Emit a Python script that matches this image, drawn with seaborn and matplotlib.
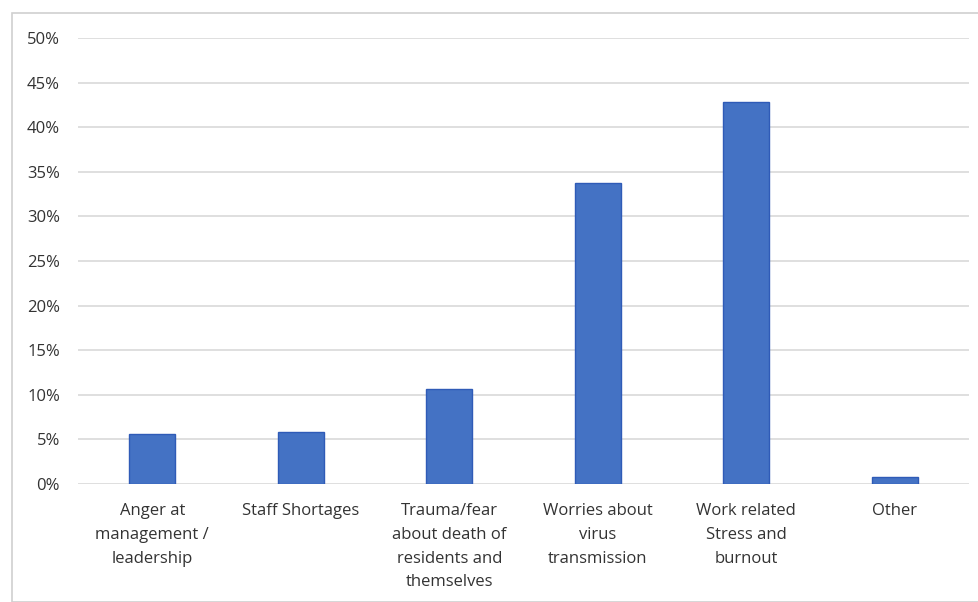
import matplotlib
matplotlib.use("Agg")
import matplotlib.pyplot as plt
import seaborn as sns
import pandas as pd
from matplotlib.patches import Rectangle
from matplotlib.ticker import PercentFormatter

categories = [
    "Anger at\nmanagement /\nleadership",
    "Staff Shortages",
    "Trauma/fear\nabout death of\nresidents and\nthemselves",
    "Worries about\nvirus\ntransmission",
    "Work related\nStress and\nburnout",
    "Other",
]
shares = [5.6, 5.8, 10.7, 33.7, 42.8, 0.8]
y_ticks = [0, 5, 10, 15, 20, 25, 30, 35, 40, 45, 50]

df = pd.DataFrame({"category": categories, "share": shares})

sns.set_theme(style="white")
plt.rcParams["font.family"] = ["Open Sans", "DejaVu Sans"]

fig = plt.figure(figsize=(9.79, 6.02), dpi=100)
ax = fig.add_axes([78 / 979, 1 - 484 / 602, (969 - 78) / 979, (484 - 38) / 602])

sns.barplot(data=df, x="category", y="share", ax=ax, color="#4472C4",
            width=0.31, edgecolor="#2F5BB7", linewidth=1.0, saturation=1)

ax.set_ylim(0, 50)
ax.set_xlim(-0.5, len(categories) - 0.5)
ax.set_yticks(y_ticks)
ax.yaxis.set_major_formatter(PercentFormatter(decimals=0))
ax.grid(axis="y", color="#D9D9D9", linewidth=1.2)
ax.set_axisbelow(True)
for s in ax.spines.values():
    s.set_visible(False)
ax.set_xlabel("")
ax.set_ylabel("")
ax.tick_params(axis="both", length=0, labelsize=12, labelcolor="#333333")
ax.tick_params(axis="y", pad=13)
ax.tick_params(axis="x", pad=14)
for lbl in ax.get_xticklabels():
    lbl.set_linespacing(1.63)
    lbl.set_verticalalignment("top")

# chart frame
fig.patches.append(Rectangle((12 / 979, 0), 1 - 12 / 979, 1 - 13 / 602,
                             transform=fig.transFigure, fill=False,
                             edgecolor="#D0D0D0", linewidth=1.2))

fig.savefig("out.png", dpi=100)
